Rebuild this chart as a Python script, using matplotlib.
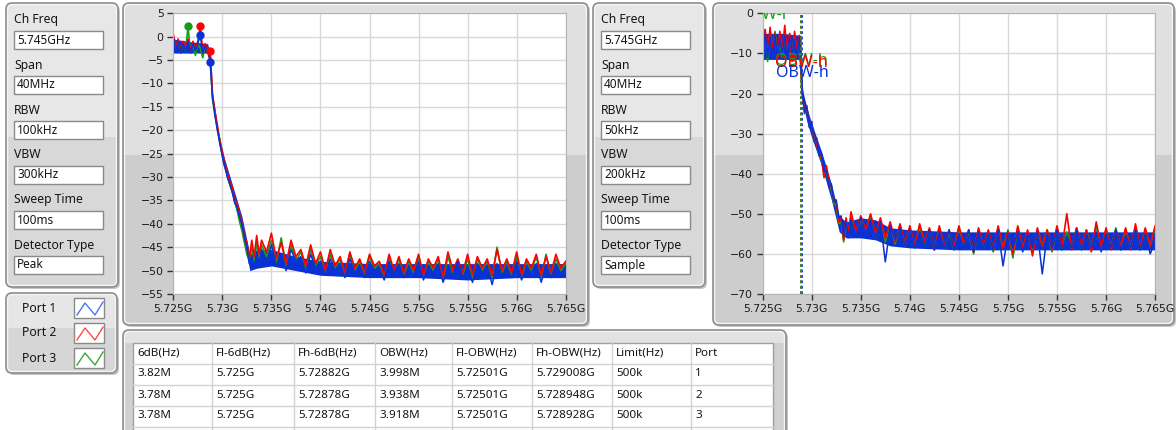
import numpy as np
import matplotlib.pyplot as plt
from matplotlib.patches import FancyBboxPatch, Rectangle

plt.rcParams["font.family"] = ["Noto Sans", "DejaVu Sans"]

W, H = 1176, 430

#############################################
# Settings panels / legend / result table
#############################################
setting_labels = ["Ch Freq", "Span", "RBW", "VBW", "Sweep Time", "Detector Type"]
settings_peak = ["5.745GHz", "40MHz", "100kHz", "300kHz", "100ms", "Peak"]
settings_sample = ["5.745GHz", "40MHz", "50kHz", "200kHz", "100ms", "Sample"]

port_names = ["Port 1", "Port 2", "Port 3"]
port_colors = ["#0a32d2", "#ff0000", "#179c17"]
legend_colors = ["#4a78e8", "#ff4a4a", "#36a836"]

table_header = ["6dB(Hz)", "Fl-6dB(Hz)", "Fh-6dB(Hz)", "OBW(Hz)",
                "Fl-OBW(Hz)", "Fh-OBW(Hz)", "Limit(Hz)", "Port"]
bw_6db = ["3.82M", "3.78M", "3.78M"]
fl_6db = ["5.725G", "5.725G", "5.725G"]
fh_6db = ["5.72882G", "5.72878G", "5.72878G"]
obw = ["3.998M", "3.938M", "3.918M"]
fl_obw = ["5.72501G", "5.72501G", "5.72501G"]
fh_obw = ["5.729008G", "5.728948G", "5.728928G"]
limit = ["500k", "500k", "500k"]
port_no = ["1", "2", "3"]

freq_ticks = [5.725, 5.73, 5.735, 5.74, 5.745, 5.75, 5.755, 5.76, 5.765]
freq_labels = ["5.725G", "5.73G", "5.735G", "5.74G", "5.745G",
               "5.75G", "5.755G", "5.76G", "5.765G"]

#############################################
# Traces (dBm)
# fine part: 5.725 .. 5.734 GHz, floor part: 5.7345 .. 5.765 GHz
#############################################
# Peak detector chart
p1_peak_fine = [0.0, -3.0, -1.0, -3.5, -1.5, -3.0, -1.0, -3.5, -1.5, -3.0,
                -1.5, 0.3, -3.5, -2.0, -3.0, -5.5, -13.0, -17.0, -20.0, -23.0,
                -25.5, -27.5, -30.0, -31.5, -33.0, -35.5, -36.5, -38.5, -40.0, -43.0,
                -45.0, -48.5, -47.0, -49.5, -46.0, -48.5, -45.5]
p2_peak_fine = [0.5, -2.0, -0.5, -3.0, -1.0, -2.5, -0.5, -3.0, -1.0, -2.5,
                -1.0, 2.2, -3.0, -1.5, -2.5, -3.0, -12.5, -16.0, -19.0, -22.5,
                -24.5, -27.0, -29.0, -31.0, -32.0, -35.0, -35.5, -38.0, -39.5, -42.5,
                -44.0, -47.5, -43.5, -47.0, -42.5, -46.5, -43.5]
p3_peak_fine = [-0.5, -2.5, -1.0, -3.5, -1.5, -3.0, 2.2, -3.5, -1.5, -4.0,
                -1.5, -2.5, -4.5, -2.0, -3.0, -4.0, -13.5, -16.5, -20.0, -22.0,
                -25.0, -27.0, -29.5, -31.5, -33.0, -35.0, -37.0, -39.5, -41.5, -44.0,
                -46.5, -48.0, -45.0, -48.0, -44.0, -47.5, -44.5]

p1_peak_floor = [-48.5, -44.5, -49.0, -46.5, -50.0, -45.5, -48.0, -47.0, -50.5, -46.5,
                 -49.5, -48.0, -51.0, -47.5, -50.0, -48.5, -51.5, -47.5, -50.5, -49.0,
                 -51.5, -48.0, -50.0, -49.5, -52.0, -48.0, -50.5, -48.5, -51.5, -49.5,
                 -51.0, -48.0, -52.0, -49.0, -50.5, -48.5, -52.5, -49.5, -51.0, -48.0,
                 -51.5, -49.5, -52.5, -48.5, -50.5, -49.0, -53.0, -48.5, -51.0, -49.5,
                 -51.5, -48.0, -52.0, -49.5, -50.5, -48.5, -52.5, -49.0, -51.5, -48.5,
                 -51.0, -50.0]
p2_peak_floor = [-46.0, -42.0, -47.5, -44.0, -48.5, -43.5, -47.0, -45.5, -49.0, -44.5,
                 -48.5, -46.0, -50.0, -45.5, -49.0, -47.0, -50.5, -46.0, -49.5, -47.5,
                 -50.5, -46.5, -49.0, -48.0, -51.0, -46.5, -50.0, -47.0, -50.5, -47.5,
                 -50.0, -46.5, -51.0, -47.5, -49.5, -47.0, -51.5, -46.0, -50.0, -47.5,
                 -50.5, -46.5, -51.0, -47.0, -49.5, -47.5, -51.0, -45.5, -50.0, -47.5,
                 -50.5, -46.0, -51.0, -47.5, -49.5, -46.5, -51.0, -47.0, -50.5, -46.5,
                 -49.5, -48.0]
p3_peak_floor = [-47.0, -43.5, -48.5, -43.0, -49.0, -44.5, -48.0, -46.0, -49.5, -45.5,
                 -49.0, -47.0, -50.5, -46.5, -49.5, -47.5, -51.0, -46.5, -50.0, -48.0,
                 -51.0, -47.0, -49.5, -48.5, -51.5, -47.0, -50.5, -47.5, -51.0, -48.0,
                 -50.5, -47.0, -51.5, -48.0, -50.0, -47.5, -52.0, -47.0, -50.5, -48.0,
                 -51.0, -47.5, -51.5, -47.5, -50.0, -48.0, -51.5, -45.0, -50.5, -48.0,
                 -51.0, -47.0, -51.5, -48.0, -50.0, -47.0, -51.5, -46.5, -51.0, -47.5,
                 -50.0, -48.5]

# dense part of the (dominant) port 1 noise band: low / high edge
env_peak_f = [5.725, 5.7265, 5.7285, 5.72885, 5.729, 5.7295, 5.730, 5.731, 5.732, 5.7328,
              5.7335, 5.735, 5.7375, 5.740, 5.745, 5.750, 5.755, 5.760, 5.765]
p1_peak_lo = [-3.5, -3.5, -3.5, -5.5, -14.0, -21.0, -27.0, -34.0, -41.5, -50.0,
              -49.5, -49.0, -50.0, -51.0, -51.5, -51.5, -52.0, -51.5, -51.5]
p1_peak_hi = [-0.5, -1.0, -1.5, -4.5, -12.0, -19.0, -24.5, -31.5, -38.5, -46.5,
              -45.5, -45.5, -47.0, -48.0, -48.5, -48.5, -48.5, -48.5, -48.5]

# peak markers (GHz, dBm)
p1_mark_f = [5.72775, 5.72875]
p1_mark_db = [0.3, -5.5]
p2_mark_f = [5.72775, 5.72875]
p2_mark_db = [2.2, -3.0]
p3_mark_f = [5.7265]
p3_mark_db = [2.2]

# Sample detector chart
p1_samp_fine = [-10.0, -5.0, -11.0, -6.0, -10.5, -5.5, -11.0, -6.5, -10.0, -5.5,
                -11.5, -6.0, -10.0, -6.5, -11.0, -6.0, -17.5, -25.0, -23.0, -28.5,
                -27.0, -32.0, -31.0, -35.5, -35.0, -39.5, -39.0, -43.5, -42.5, -47.0,
                -46.5, -51.0, -50.5, -55.5, -52.0, -56.0, -51.5]
p2_samp_fine = [-7.0, -4.0, -10.0, -3.5, -9.0, -5.0, -11.5, -4.5, -9.5, -3.0,
                -10.0, -5.0, -12.0, -4.5, -9.5, -5.5, -20.0, -23.5, -24.0, -27.0,
                -28.0, -31.0, -32.5, -35.0, -36.0, -41.0, -38.0, -42.0, -43.5, -46.5,
                -47.5, -52.0, -51.0, -56.5, -51.0, -55.0, -49.5]
p3_samp_fine = [-8.0, -5.0, -12.0, -6.0, -9.5, -4.5, -10.5, -7.0, -11.0, -5.0,
                -9.5, -6.5, -11.0, -5.5, -10.0, -7.0, -19.0, -24.5, -23.5, -28.0,
                -27.5, -32.0, -32.0, -35.0, -36.5, -40.0, -39.5, -43.0, -44.0, -47.5,
                -48.0, -52.5, -52.0, -57.0, -52.5, -55.5, -51.0]

p1_samp_floor = [-55.5, -51.0, -55.0, -51.5, -56.0, -52.0, -62.0, -53.0, -56.5, -53.5,
                 -58.0, -54.0, -58.5, -54.5, -58.0, -54.0, -59.0, -54.5, -58.5, -54.0,
                 -59.0, -55.0, -58.5, -54.0, -59.5, -54.5, -58.5, -55.0, -59.0, -54.0,
                 -63.0, -55.0, -58.5, -54.5, -59.5, -55.0, -58.5, -54.5, -65.0, -55.0,
                 -58.5, -54.0, -59.0, -55.5, -58.5, -54.0, -59.0, -55.0, -58.5, -54.5,
                 -59.5, -55.0, -58.5, -54.0, -59.0, -55.5, -58.5, -54.0, -59.0, -55.0,
                 -60.0, -57.0]
p2_samp_floor = [-54.5, -50.5, -54.0, -50.0, -55.0, -51.0, -56.0, -52.0, -57.0, -52.5,
                 -57.5, -53.0, -58.0, -52.5, -57.0, -53.5, -59.0, -53.0, -58.0, -54.0,
                 -58.5, -53.0, -57.5, -54.0, -59.5, -53.5, -58.0, -54.0, -59.0, -53.0,
                 -58.5, -54.5, -60.0, -53.0, -58.5, -54.0, -60.5, -53.5, -58.0, -54.0,
                 -59.0, -53.0, -58.5, -50.0, -59.0, -53.5, -58.0, -54.0, -59.5, -52.0,
                 -58.5, -53.5, -59.0, -54.0, -58.0, -53.5, -59.0, -52.5, -58.5, -53.5,
                 -58.0, -53.0]
p3_samp_floor = [-55.0, -51.5, -54.5, -50.5, -56.0, -51.5, -57.0, -52.5, -57.5, -53.0,
                 -58.0, -53.5, -58.5, -53.0, -58.0, -54.0, -59.0, -53.5, -58.5, -54.5,
                 -59.0, -53.5, -58.0, -54.5, -60.0, -54.0, -58.5, -54.5, -59.5, -53.5,
                 -58.5, -54.0, -61.0, -53.5, -59.0, -54.5, -59.5, -54.0, -58.0, -54.0,
                 -59.5, -53.5, -59.0, -54.5, -58.5, -53.5, -59.0, -54.0, -58.5, -53.0,
                 -59.0, -54.0, -58.5, -53.5, -59.0, -54.0, -58.5, -53.5, -59.0, -54.0,
                 -58.0, -53.5]

env_samp_f = [5.725, 5.727, 5.7289, 5.72905, 5.7295, 5.730, 5.731, 5.732, 5.7328, 5.7335,
              5.735, 5.7365, 5.738, 5.740, 5.745, 5.750, 5.755, 5.760, 5.765]
p1_samp_lo = [-11.5, -11.5, -11.5, -22.0, -27.0, -31.0, -38.0, -46.5, -54.5, -56.0,
              -56.0, -56.5, -58.0, -58.5, -59.0, -59.0, -59.0, -59.0, -59.0]
p1_samp_hi = [-5.0, -5.0, -5.5, -19.0, -23.5, -27.5, -34.5, -42.5, -50.5, -52.0,
              -51.0, -51.5, -53.5, -54.0, -54.5, -54.5, -54.5, -54.5, -54.5]


def sweep(fine, floor):
    f = np.concatenate([np.linspace(5.725, 5.734, len(fine)),
                        np.linspace(5.7345, 5.765, len(floor))])
    return f, np.array(fine + floor)


#############################################
# Figure + background "front panel"
#############################################
fig = plt.figure(figsize=(W / 100, H / 100), dpi=100)
bg = fig.add_axes([0, 0, 1, 1])
bg.set_xlim(0, W)
bg.set_ylim(H, 0)
bg.axis("off")


def panel(x0, y0, x1, y1, split, top="#e4e4e4", bottom="#d3d3d3"):
    style = "round,pad=0,rounding_size=6"
    bg.add_patch(FancyBboxPatch((x0 + 2, y0 + 2), x1 - x0, y1 - y0, boxstyle=style,
                                fc="#c6c6c6", ec="none"))
    body = FancyBboxPatch((x0, y0), x1 - x0, y1 - y0, boxstyle=style, fc=top, ec="none")
    bg.add_patch(body)
    low = Rectangle((x0, split), x1 - x0, y1 - split, fc=bottom, ec="none")
    bg.add_patch(low)
    low.set_clip_path(body)
    bg.add_patch(FancyBboxPatch((x0 + 1.5, y0 + 1.5), x1 - x0 - 3, y1 - y0 - 3,
                                boxstyle="round,pad=0,rounding_size=5",
                                fc="none", ec="#f6f6f6", lw=1))
    bg.add_patch(FancyBboxPatch((x0, y0), x1 - x0, y1 - y0, boxstyle=style,
                                fc="none", ec="#8e8e8e", lw=1.2))


def settings_panel(x0, values):
    panel(x0, 3, x0 + 112, 287, 137, top="#e7e7e7", bottom="#d8d8d8")
    for i, (lab, val) in enumerate(zip(setting_labels, values)):
        y = 20 + 45 * i
        bg.text(x0 + 8, y, lab, fontsize=8.8, va="center", ha="left", color="#151515")
        bg.add_patch(Rectangle((x0 + 8, y + 11), 89, 18, fc="white", ec="#8a8a8a", lw=1))
        bg.text(x0 + 11, y + 20, val, fontsize=8.5, va="center", ha="left", color="#151515")


settings_panel(6, settings_peak)
settings_panel(593, settings_sample)

# chart panels
panel(123, 3, 588, 325, 155, top="#e0e0e0", bottom="#cdcdcd")
panel(713, 3, 1174, 325, 155, top="#e0e0e0", bottom="#cdcdcd")

# legend panel
panel(6, 293, 117, 373, 328, top="#e6e6e6", bottom="#d6d6d6")
for i, (name, c) in enumerate(zip(port_names, legend_colors)):
    y = 308 + 25 * i
    bg.text(22, y, name, fontsize=8.8, va="center", ha="left", color="#151515")
    bg.add_patch(Rectangle((74, y - 10), 30, 20, fc="white", ec="#8a8a8a", lw=1))
    bg.plot([77, 85, 95, 103], [y + 7, y - 5, y + 7, y - 6], color=c, lw=1)

# result table
panel(123, 330, 786, 445, 343, top="#e2e2e2", bottom="#d0d0d0")
bg.add_patch(Rectangle((133, 343), 640, 100, fc="white", ec="#a0a0a0", lw=1))
col_x = [133, 212, 294, 375, 452, 532, 612, 691]
row_y = [353, 374, 395, 416]
for x in col_x[1:]:
    bg.plot([x, x], [343, 440], color="#d2d2d2", lw=1)
for y in row_y:
    bg.plot([133, 773], [y + 11, y + 11], color="#d2d2d2", lw=1)
rows = [table_header] + [list(r) for r in zip(bw_6db, fl_6db, fh_6db, obw,
                                               fl_obw, fh_obw, limit, port_no)]
for y, row in zip(row_y, rows):
    for x, cell in zip(col_x, row):
        bg.text(x + 4, y, cell, fontsize=8.4, va="center", ha="left", color="#151515")


#############################################
# Spectrum charts
#############################################
def chart(left_px, ylim, yticks):
    ax = fig.add_axes([left_px / W, (H - 294) / H, 392.4 / W, 280.7 / H])
    ax.set_facecolor("white")
    ax.set_xlim(5.725, 5.765)
    ax.set_ylim(*ylim)
    ax.set_xticks(freq_ticks)
    ax.set_xticklabels(freq_labels)
    ax.set_yticks(yticks)
    ax.grid(True, color="#d9d9d9", lw=1)
    ax.set_axisbelow(True)
    for s in ax.spines.values():
        s.set_color("#b4b4b4")
        s.set_linewidth(0.8)
    ax.tick_params(direction="out", length=4, width=1, color="#333333",
                   labelcolor="#1a1a1a", pad=3)
    for lab in ax.get_xticklabels() + ax.get_yticklabels():
        lab.set_fontfamily("DejaVu Sans")
        lab.set_fontsize(7.8)
    return ax


def draw_traces(ax, env_f, lo, hi, traces):
    # green and red traces underneath, the dense blue band + blue trace on top
    f, v = sweep(*traces[0][:2])
    ax.plot(f, v, color=traces[0][2], lw=1.2)
    f, v = sweep(*traces[1][:2])
    ax.plot(f, v, color=traces[1][2], lw=1.2)
    ax.fill_between(env_f, lo, hi, color=traces[2][2], lw=0)
    f, v = sweep(*traces[2][:2])
    ax.plot(f, v, color=traces[2][2], lw=1.1)


# Peak detector
ax1 = chart(173.3, (-55, 5), list(range(-55, 6, 5)))
draw_traces(ax1, env_peak_f, p1_peak_lo, p1_peak_hi, [
    (p3_peak_fine, p3_peak_floor, port_colors[2]),
    (p2_peak_fine, p2_peak_floor, port_colors[1]),
    (p1_peak_fine, p1_peak_floor, port_colors[0])])
for mf, mv, c in [(p3_mark_f, p3_mark_db, port_colors[2]),
                  (p2_mark_f, p2_mark_db, port_colors[1]),
                  (p1_mark_f, p1_mark_db, port_colors[0])]:
    ax1.plot(mf, mv, "o", color=c, ms=5, zorder=5)

# Sample detector
ax2 = chart(762.7, (-70, 0), list(range(-70, 1, 10)))
draw_traces(ax2, env_samp_f, p1_samp_lo, p1_samp_hi, [
    (p3_samp_fine, p3_samp_floor, port_colors[2]),
    (p2_samp_fine, p2_samp_floor, port_colors[1]),
    (p1_samp_fine, p1_samp_floor, port_colors[0])])

# OBW cursors (from the result table)
label_y_h = [-15.0, -12.5, -12.0]
for i in [0, 1, 2]:
    c = port_colors[i]
    ax2.axvline(float(fl_obw[i][:-1]), color=c, ls=(0, (1.5, 1.5)), lw=1.3)
    ax2.axvline(float(fh_obw[i][:-1]), color=c, ls=(0, (1.5, 1.5)), lw=1.3)
for i in [2, 1, 0]:
    ax2.text(float(fh_obw[i][:-1]), label_y_h[i], "OBW-h", color=port_colors[i],
             fontsize=11.5, ha="center", va="center", clip_on=True)
# only the green low-edge label shows, half cut by the plot frame
ax2.text(float(fl_obw[2][:-1]), -0.4, "OBW-l", color=port_colors[2], fontsize=11.5,
         ha="center", va="center", clip_on=True)

plt.savefig("out.png", dpi=100)
